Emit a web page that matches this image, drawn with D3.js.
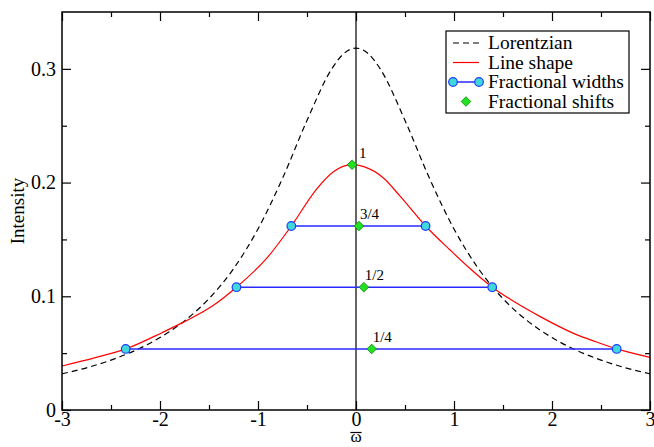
<!DOCTYPE html>
<html>
<head>
<meta charset="utf-8">
<script src="https://cdn.jsdelivr.net/npm/d3@7"></script>
<style>
  body { margin: 0; background: white; }
  svg { display: block; }
  svg text { font-family: "Liberation Serif", "Times New Roman", serif; fill: black; }
</style>
</head>
<body>
<div id="chart"></div>
<script>
// chart size
const width = 654;
const height = 447;

// Lorentzian reference curve
const lorentzX = [-3, -2.75, -2.5, -2.25, -2, -1.75, -1.5, -1.25, -1, -0.75, -0.5, -0.25, -0.125, 0,
    0.125, 0.25, 0.5, 0.75, 1, 1.25, 1.5, 1.75, 2, 2.25, 2.5, 2.75, 3];
const lorentzY = [0.0318, 0.0371, 0.0439, 0.0525, 0.0637, 0.0784, 0.0979, 0.1242, 0.1592, 0.2037, 0.2546, 0.2996, 0.3134, 0.3183,
    0.3134, 0.2996, 0.2546, 0.2037, 0.1592, 0.1242, 0.0979, 0.0784, 0.0637, 0.0525, 0.0439, 0.0371, 0.0318];

// Line shape (asymmetric)
const shapeX = [-3, -2.66, -2.35, -1.98, -1.75, -1.47, -1.22, -0.91, -0.66, -0.4, -0.23, -0.04, 0.08,
    0.28, 0.45, 0.71, 0.96, 1.16, 1.39, 1.6, 1.88, 2.22, 2.44, 2.66, 3];
const shapeY = [0.0387, 0.046, 0.0537, 0.068, 0.0777, 0.0912, 0.108, 0.1335, 0.1618, 0.1945, 0.2095, 0.2157, 0.2140,
    0.2040, 0.1880, 0.1618, 0.1407, 0.1246, 0.108, 0.096, 0.0821, 0.0674, 0.0602, 0.0537, 0.0463];

// Fractional widths: level, left and right edge
const widthLevels = [0.0537, 0.108, 0.1618];
const widthLeft = [-2.35, -1.22, -0.66];
const widthRight = [2.66, 1.39, 0.71];

// Fractional shifts (centre of each width)
const shiftLevels = [0.0537, 0.108, 0.1618, 0.2157];
const shiftX = [0.16, 0.08, 0.03, -0.04];
const shiftLabels = ["1/4", "1/2", "3/4", "1"];

// Axis ticks
const xTicks = [-3, -2, -1, 0, 1, 2, 3];
const xMinorTicks = [-2.5, -1.5, -0.5, 0.5, 1.5, 2.5];
const xTickLabels = ["-3", "-2", "-1", "0", "1", "2", "3"];
const yTicks = [0, 0.1, 0.2, 0.3];
const yMinorTicks = [0.05, 0.15, 0.25];
const yTickLabels = ["0", "0.1", "0.2", "0.3"];

const legendLabels = ["Lorentzian", "Line shape", "Fractional widths", "Fractional shifts"];

const margin = { top: 12, right: 4, bottom: 37, left: 62 };

const x = d3.scaleLinear().domain([-3, 3]).range([margin.left, width - margin.right]);
const y = d3.scaleLinear().domain([0, 0.35]).range([height - margin.bottom, margin.top]);

const svg = d3.select("#chart").append("svg")
    .attr("width", width)
    .attr("height", height);

const lorentz = lorentzX.map((v, i) => [v, lorentzY[i]]);
const shape = shapeX.map((v, i) => [v, shapeY[i]]);

const line = d3.line()
    .x(d => x(d[0]))
    .y(d => y(d[1]))
    .curve(d3.curveMonotoneX);

// clip curves to plot area
svg.append("clipPath").attr("id", "plot-clip")
    .append("rect")
    .attr("x", x(-3)).attr("y", y(0.35))
    .attr("width", x(3) - x(-3)).attr("height", y(0) - y(0.35));

const plot = svg.append("g").attr("clip-path", "url(#plot-clip)");

plot.append("path")
    .datum(lorentz)
    .attr("d", line)
    .attr("fill", "none")
    .attr("stroke", "black")
    .attr("stroke-width", 1.2)
    .attr("stroke-dasharray", "6,4");

plot.append("path")
    .datum(shape)
    .attr("d", line)
    .attr("fill", "none")
    .attr("stroke", "red")
    .attr("stroke-width", 1.2);

// vertical line at zero
svg.append("line")
    .attr("x1", x(0)).attr("x2", x(0))
    .attr("y1", y(0)).attr("y2", y(0.35))
    .attr("stroke", "black")
    .attr("stroke-width", 1.2);

// fractional widths
svg.append("g").selectAll("line")
    .data(widthLevels)
    .join("line")
    .attr("x1", (d, i) => x(widthLeft[i]))
    .attr("x2", (d, i) => x(widthRight[i]))
    .attr("y1", d => y(d))
    .attr("y2", d => y(d))
    .attr("stroke", "#2a2aff")
    .attr("stroke-width", 1.5);

const ends = [];
widthLevels.forEach((lv, i) => {
    ends.push([widthLeft[i], lv]);
    ends.push([widthRight[i], lv]);
});

svg.append("g").selectAll("circle")
    .data(ends)
    .join("circle")
    .attr("cx", d => x(d[0]))
    .attr("cy", d => y(d[1]))
    .attr("r", 4.3)
    .attr("fill", "#40d8d8")
    .attr("stroke", "#1a3cff")
    .attr("stroke-width", 1.2);

// fractional shifts
const diamond = d3.symbol().type(d3.symbolSquare).size(46);

svg.append("g").selectAll("path")
    .data(shiftLevels)
    .join("path")
    .attr("d", diamond)
    .attr("transform", (d, i) => `translate(${x(shiftX[i])},${y(d)}) rotate(45)`)
    .attr("fill", "#22e022")
    .attr("stroke", "#0a8a0a")
    .attr("stroke-width", 0.8);

svg.append("g").selectAll("text")
    .data(shiftLevels)
    .join("text")
    .attr("x", (d, i) => x(shiftX[i]) + (i === 3 ? 7 : 1))
    .attr("y", d => y(d) - 7)
    .attr("font-size", "15px")
    .text((d, i) => shiftLabels[i]);

// axes: inward ticks, mirrored on all four sides
function styleAxis(g) {
    g.select(".domain").remove();
    g.selectAll(".tick line").attr("stroke", "black").attr("stroke-width", 1.2);
    g.selectAll("text").attr("font-size", "20px");
}

svg.append("g")
    .attr("transform", `translate(0,${y(0)})`)
    .call(d3.axisBottom(x).tickValues(xTicks).tickSize(-9).tickPadding(2)
        .tickFormat((d, i) => xTickLabels[i]))
    .call(styleAxis);

svg.append("g")
    .attr("transform", `translate(0,${y(0)})`)
    .call(d3.axisBottom(x).tickValues(xMinorTicks).tickSize(-5).tickFormat(""))
    .call(styleAxis);

svg.append("g")
    .attr("transform", `translate(0,${y(0.35)})`)
    .call(d3.axisTop(x).tickValues(xTicks).tickSize(-9).tickFormat(""))
    .call(styleAxis);

svg.append("g")
    .attr("transform", `translate(0,${y(0.35)})`)
    .call(d3.axisTop(x).tickValues(xMinorTicks).tickSize(-5).tickFormat(""))
    .call(styleAxis);

svg.append("g")
    .attr("transform", `translate(${x(-3)},0)`)
    .call(d3.axisLeft(y).tickValues(yTicks).tickSize(-9).tickPadding(6)
        .tickFormat((d, i) => yTickLabels[i]))
    .call(styleAxis);

svg.append("g")
    .attr("transform", `translate(${x(-3)},0)`)
    .call(d3.axisLeft(y).tickValues(yMinorTicks).tickSize(-5).tickFormat(""))
    .call(styleAxis);

svg.append("g")
    .attr("transform", `translate(${x(3)},0)`)
    .call(d3.axisRight(y).tickValues(yTicks).tickSize(-9).tickFormat(""))
    .call(styleAxis);

svg.append("g")
    .attr("transform", `translate(${x(3)},0)`)
    .call(d3.axisRight(y).tickValues(yMinorTicks).tickSize(-5).tickFormat(""))
    .call(styleAxis);

// frame
svg.append("rect")
    .attr("x", x(-3)).attr("y", y(0.35))
    .attr("width", x(3) - x(-3)).attr("height", y(0) - y(0.35))
    .attr("fill", "none")
    .attr("stroke", "black")
    .attr("stroke-width", 1.5);

// axis titles
svg.append("text")
    .attr("transform", `translate(24,${(y(0) + y(0.35)) / 2}) rotate(-90)`)
    .attr("text-anchor", "middle")
    .attr("font-size", "19px")
    .text("Intensity");

const omega = svg.append("text")
    .attr("x", x(0))
    .attr("y", 442)
    .attr("text-anchor", "middle")
    .attr("font-size", "17px")
    .text("ω");

// bar over omega
const ob = omega.node().getBBox();
svg.append("line")
    .attr("x1", ob.x).attr("x2", ob.x + ob.width)
    .attr("y1", 432.5).attr("y2", 432.5)
    .attr("stroke", "black")
    .attr("stroke-width", 1.2);

// legend
const legend = svg.append("g").attr("transform", "translate(446,31)");

legend.append("rect")
    .attr("width", 183)
    .attr("height", 82)
    .attr("fill", "white")
    .attr("stroke", "black")
    .attr("stroke-width", 1.2);

const rowY = i => 12 + i * 19.5;

legend.selectAll("text")
    .data(legendLabels)
    .join("text")
    .attr("x", 42)
    .attr("y", (d, i) => rowY(i) + 6)
    .attr("font-size", "19.5px")
    .text(d => d);

legend.append("line")
    .attr("x1", 7).attr("x2", 33)
    .attr("y1", rowY(0)).attr("y2", rowY(0))
    .attr("stroke", "black").attr("stroke-width", 1.2)
    .attr("stroke-dasharray", "6,4");

legend.append("line")
    .attr("x1", 7).attr("x2", 33)
    .attr("y1", rowY(1)).attr("y2", rowY(1))
    .attr("stroke", "red").attr("stroke-width", 1.2);

legend.append("line")
    .attr("x1", 7).attr("x2", 33)
    .attr("y1", rowY(2)).attr("y2", rowY(2))
    .attr("stroke", "#2a2aff").attr("stroke-width", 1.5);

legend.selectAll("circle")
    .data([7, 33])
    .join("circle")
    .attr("cx", d => d)
    .attr("cy", rowY(2))
    .attr("r", 4.3)
    .attr("fill", "#40d8d8")
    .attr("stroke", "#1a3cff")
    .attr("stroke-width", 1.2);

legend.append("path")
    .attr("d", diamond)
    .attr("transform", `translate(20,${rowY(3)}) rotate(45)`)
    .attr("fill", "#22e022")
    .attr("stroke", "#0a8a0a")
    .attr("stroke-width", 0.8);
</script>
</body>
</html>
